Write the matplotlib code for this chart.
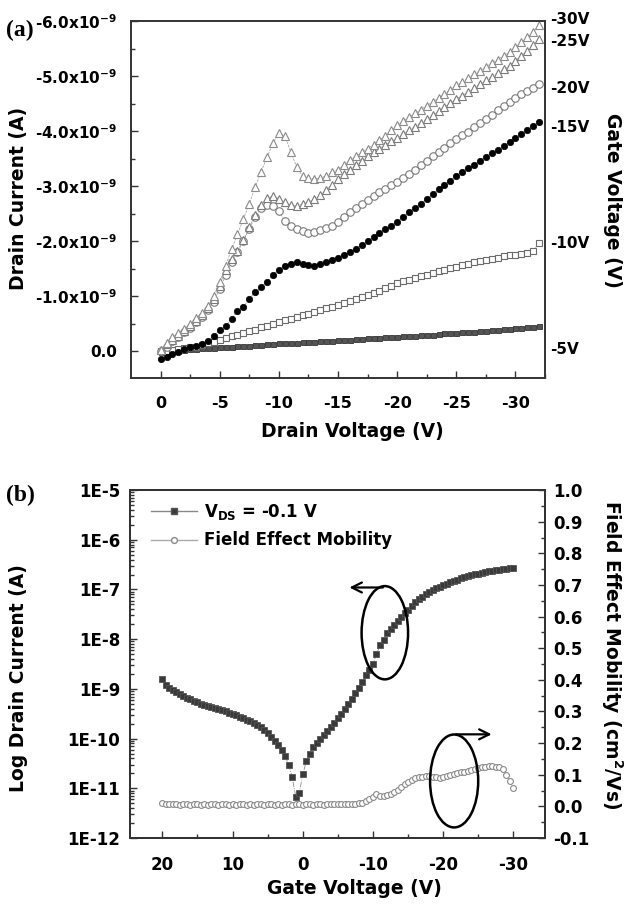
import numpy as np
import matplotlib
matplotlib.use('Agg')
import matplotlib.pyplot as plt
from matplotlib.patches import Ellipse
from matplotlib.lines import Line2D
from matplotlib.ticker import FixedLocator, FuncFormatter, LogLocator, NullFormatter

plt.rcParams['font.family'] = 'DejaVu Sans'
plt.rcParams['font.weight'] = 'bold'
plt.rcParams['mathtext.default'] = 'bf'
plt.rcParams['axes.unicode_minus'] = False

# ---------------- (a) output curves ----------------
# drain voltage sweep magnitude (V), 0 -> 32 V in 0.5 V steps
vd = np.arange(0, 32.01, 0.5)
# |I_D| in nA for each gate voltage
id_5 = [-0.02, -0.01, 0.00, 0.01, 0.02, 0.03, 0.04, 0.05, 0.06, 0.06, 0.07, 0.08, 0.08,
        0.09, 0.09, 0.10, 0.11, 0.11, 0.12, 0.13, 0.14, 0.14, 0.15, 0.15, 0.16, 0.16,
        0.17, 0.18, 0.18, 0.19, 0.20, 0.20, 0.21, 0.22, 0.22, 0.23, 0.24, 0.24, 0.25,
        0.26, 0.26, 0.27, 0.28, 0.28, 0.29, 0.30, 0.30, 0.31, 0.32, 0.32, 0.33, 0.34,
        0.35, 0.35, 0.36, 0.37, 0.38, 0.39, 0.40, 0.41, 0.42, 0.42, 0.43, 0.44, 0.45]
id_10 = [0.00, 0.01, 0.02, 0.04, 0.05, 0.07, 0.08, 0.11, 0.14, 0.17, 0.20, 0.23, 0.27,
         0.30, 0.33, 0.36, 0.39, 0.43, 0.46, 0.50, 0.53, 0.56, 0.59, 0.62, 0.65, 0.68,
         0.71, 0.74, 0.78, 0.81, 0.84, 0.87, 0.91, 0.94, 0.98, 1.02, 1.06, 1.10, 1.14,
         1.19, 1.24, 1.27, 1.30, 1.33, 1.36, 1.39, 1.42, 1.45, 1.48, 1.51, 1.53, 1.56,
         1.58, 1.61, 1.63, 1.65, 1.67, 1.70, 1.72, 1.74, 1.75, 1.77, 1.78, 1.81, 1.97]
id_15 = [-0.15, -0.10, -0.05, -0.01, 0.03, 0.07, 0.10, 0.13, 0.18, 0.28, 0.38, 0.45, 0.58,
         0.73, 0.80, 0.95, 1.07, 1.16, 1.26, 1.38, 1.48, 1.54, 1.59, 1.62, 1.59, 1.56,
         1.55, 1.58, 1.62, 1.66, 1.70, 1.75, 1.80, 1.86, 1.93, 2.00, 2.07, 2.14, 2.21,
         2.28, 2.35, 2.43, 2.52, 2.60, 2.68, 2.76, 2.85, 2.94, 3.02, 3.10, 3.19, 3.26,
         3.32, 3.39, 3.46, 3.53, 3.60, 3.66, 3.73, 3.80, 3.87, 3.94, 4.01, 4.09, 4.16]
id_20 = [0.00, 0.08, 0.18, 0.26, 0.34, 0.42, 0.52, 0.62, 0.74, 0.90, 1.12, 1.38, 1.62,
         1.80, 2.00, 2.22, 2.44, 2.60, 2.66, 2.64, 2.54, 2.37, 2.28, 2.22, 2.18, 2.15,
         2.17, 2.20, 2.24, 2.28, 2.35, 2.43, 2.52, 2.60, 2.68, 2.75, 2.82, 2.89, 2.95,
         3.01, 3.08, 3.15, 3.22, 3.30, 3.38, 3.46, 3.54, 3.62, 3.70, 3.78, 3.85, 3.92,
         3.99, 4.07, 4.14, 4.22, 4.30, 4.38, 4.45, 4.53, 4.60, 4.67, 4.73, 4.79, 4.85]
id_25 = [0.02, 0.12, 0.20, 0.28, 0.36, 0.45, 0.55, 0.65, 0.78, 0.95, 1.18, 1.48, 1.68,
         1.82, 2.02, 2.26, 2.48, 2.66, 2.78, 2.82, 2.77, 2.71, 2.66, 2.64, 2.67, 2.71,
         2.76, 2.83, 2.93, 3.02, 3.12, 3.22, 3.30, 3.38, 3.46, 3.54, 3.61, 3.68, 3.75,
         3.81, 3.87, 3.94, 4.01, 4.08, 4.15, 4.22, 4.29, 4.36, 4.43, 4.51, 4.58, 4.64,
         4.71, 4.78, 4.85, 4.92, 4.99, 5.06, 5.12, 5.19, 5.28, 5.37, 5.46, 5.57, 5.67]
id_30 = [0.02, 0.15, 0.25, 0.32, 0.40, 0.50, 0.60, 0.70, 0.82, 1.00, 1.25, 1.55, 1.85,
         2.12, 2.40, 2.68, 2.98, 3.26, 3.52, 3.78, 3.97, 3.91, 3.62, 3.35, 3.18, 3.14,
         3.13, 3.14, 3.19, 3.25, 3.30, 3.38, 3.47, 3.54, 3.61, 3.68, 3.75, 3.83, 3.91,
         4.01, 4.11, 4.18, 4.25, 4.32, 4.39, 4.46, 4.53, 4.60, 4.67, 4.75, 4.83, 4.89,
         4.96, 5.03, 5.10, 5.17, 5.24, 5.30, 5.37, 5.43, 5.52, 5.61, 5.70, 5.80, 5.92]
gate_labels = ['-5V', '-10V', '-15V', '-20V', '-25V', '-30V']
label_pos = [0.02, 1.96, 4.07, 4.78, 5.62, 6.02]   # nA, where the right-hand labels sit

# ---------------- (b) transfer curve ----------------
vg = np.arange(20, -30.01, -0.5)
log_id = [-8.80, -8.92, -8.99, -9.03, -9.07, -9.11, -9.15, -9.18, -9.21, -9.24,
          -9.27, -9.30, -9.32, -9.35, -9.37, -9.39, -9.41, -9.43, -9.45, -9.48,
          -9.50, -9.53, -9.56, -9.59, -9.62, -9.65, -9.69, -9.72, -9.77, -9.82,
          -9.89, -9.96, -10.04, -10.13, -10.23, -10.35, -10.53, -10.78, -11.17, -11.10,
          -10.72, -10.46, -10.30, -10.17, -10.08, -10.00, -9.93, -9.85, -9.77, -9.68,
          -9.59, -9.50, -9.40, -9.30, -9.20, -9.09, -8.98, -8.86, -8.73, -8.62,
          -8.50, -8.30, -8.12, -8.02, -7.87, -7.79, -7.71, -7.63, -7.55, -7.48,
          -7.41, -7.34, -7.26, -7.20, -7.15, -7.10, -7.06, -7.02, -6.98, -6.95,
          -6.91, -6.88, -6.85, -6.82, -6.80, -6.77, -6.75, -6.73, -6.71, -6.69,
          -6.68, -6.66, -6.65, -6.63, -6.62, -6.61, -6.60, -6.59, -6.58, -6.57,
          -6.57]
mobility = [0.010, 0.008, 0.007, 0.006, 0.006, 0.005, 0.006, 0.006, 0.005, 0.006,
            0.006, 0.005, 0.006, 0.005, 0.006, 0.006, 0.005, 0.006, 0.006, 0.005,
            0.006, 0.005, 0.006, 0.006, 0.005, 0.006, 0.005, 0.006, 0.006, 0.005,
            0.006, 0.006, 0.005, 0.006, 0.005, 0.006, 0.006, 0.005, 0.006, 0.006,
            0.005, 0.006, 0.006, 0.005, 0.006, 0.006, 0.005, 0.006, 0.006, 0.007,
            0.006, 0.006, 0.007, 0.007, 0.008, 0.009, 0.010, 0.012, 0.016, 0.022,
            0.030, 0.040, 0.032, 0.033, 0.036, 0.040, 0.045, 0.052, 0.062, 0.071,
            0.078, 0.084, 0.089, 0.092, 0.094, 0.096, 0.096, 0.094, 0.092, 0.089,
            0.092, 0.096, 0.099, 0.102, 0.105, 0.108, 0.110, 0.113, 0.116, 0.119,
            0.121, 0.123, 0.126, 0.127, 0.127, 0.125, 0.123, 0.118, 0.098, 0.080,
            0.058]

fig = plt.figure(figsize=(6.29, 9.05), dpi=100)
spine_col = '#333333'

# ================= panel (a) =================
ax1 = fig.add_axes([0.2083, 0.5823, 0.6582, 0.3945])
styles = [
    dict(marker='s', ms=3.6, mfc='#555555', mec='#333333', mew=0.6),
    dict(marker='s', ms=4.6, mfc='white', mec='#6a6a6a', mew=0.8),
    dict(marker='o', ms=4.6, mfc='black', mec='black', mew=0.5),
    dict(marker='o', ms=5.4, mfc='white', mec='#7a7a7a', mew=0.8),
    dict(marker='^', ms=6.0, mfc='white', mec='#7a7a7a', mew=0.8),
    dict(marker='^', ms=6.0, mfc='white', mec='#8a8a8a', mew=0.8),
]
for cur, st in zip([id_5, id_10, id_15, id_20, id_25, id_30], styles):
    ax1.plot(-vd, -np.array(cur) * 1e-9, ls='--', lw=0.5, color='#999999', **st)

ax1.set_xlim(2.5, -32.5)
ax1.set_ylim(0.49e-9, -6.0e-9)
ax1.xaxis.set_major_locator(FixedLocator([0, -5, -10, -15, -20, -25, -30]))
ax1.xaxis.set_minor_locator(FixedLocator(np.arange(-2.5, -32.6, -5)))
ax1.xaxis.set_major_formatter(FuncFormatter(lambda v, p: '%d' % v))
ax1.yaxis.set_major_locator(FixedLocator(np.arange(0, -6.01e-9, -1e-9)))
ax1.yaxis.set_minor_locator(FixedLocator(np.arange(-0.5e-9, -6.01e-9, -1e-9)))


def fmt_a(v, p):
    if abs(v) < 1e-12:
        return '0.0'
    return '%.1fx10$^{-9}$' % (v * 1e9)


ax1.yaxis.set_major_formatter(FuncFormatter(fmt_a))
ax1.tick_params(axis='both', which='both', direction='in', color=spine_col, width=1.0)
ax1.tick_params(axis='both', which='major', length=5)
ax1.tick_params(axis='both', which='minor', length=3)
ax1.tick_params(axis='x', labelsize=11.5, pad=13)
ax1.tick_params(axis='y', labelsize=11, pad=10)
for s in ax1.spines.values():
    s.set_color(spine_col)
    s.set_linewidth(1.4)

for lab, y in zip(gate_labels, label_pos):
    ax1.text(1.012, -y * 1e-9, lab, transform=ax1.get_yaxis_transform(),
             fontsize=11, fontweight='bold', ha='left', va='center')

fig.text(0.029, 1 - 198 / 905, 'Drain Current (A)', rotation=90, fontsize=13.5,
         fontweight='bold', ha='center', va='center')
fig.text(0.973, 1 - 200 / 905, 'Gate Voltage (V)', rotation=270, fontsize=13.5,
         fontweight='bold', ha='center', va='center')
fig.text(0.56, 1 - 431 / 905, 'Drain Voltage (V)', fontsize=13.5,
         fontweight='bold', ha='center', va='center')
fig.text(0.010, 1 - 30 / 905, '(a)', fontsize=17, fontweight='bold',
         family='Liberation Serif', ha='left', va='center')

# ================= panel (b) =================
ax2 = fig.add_axes([0.2067, 0.0740, 0.6598, 0.3845])
ax2.plot(vg, 10 ** np.array(log_id), marker='s', ms=4.6, mfc='#3a3a3a', mec='#555555',
         mew=0.6, ls='-.', lw=0.6, color='#888888')
ax2.set_yscale('log')
ax2.set_ylim(1e-12, 1e-5)
ax2.set_xlim(24.6, -34.5)
ax2.yaxis.set_major_locator(LogLocator(base=10, numticks=10))
ax2.yaxis.set_minor_locator(LogLocator(base=10, subs=np.arange(2, 10), numticks=20))
ax2.yaxis.set_minor_formatter(NullFormatter())
ax2.yaxis.set_major_formatter(FuncFormatter(lambda v, p: '1E%d' % round(np.log10(v))))
ax2.xaxis.set_major_locator(FixedLocator([20, 10, 0, -10, -20, -30]))
ax2.xaxis.set_minor_locator(FixedLocator([15, 5, -5, -15, -25]))
ax2.xaxis.set_major_formatter(FuncFormatter(lambda v, p: '%d' % v))
ax2.tick_params(axis='both', which='both', direction='in', color=spine_col, width=1.0)
ax2.tick_params(axis='both', which='major', length=5)
ax2.tick_params(axis='both', which='minor', length=3)
ax2.tick_params(axis='x', labelsize=12, pad=13)
ax2.tick_params(axis='y', labelsize=12, pad=7)

ax2r = ax2.twinx()
ax2r.plot(vg, mobility, marker='o', ms=4.2, mfc='white', mec='#8a8a8a', mew=0.8,
          ls='-.', lw=0.5, color='#aaaaaa')
ax2r.set_ylim(-0.1, 1.0)
ax2r.yaxis.set_major_locator(FixedLocator(np.round(np.arange(-0.1, 1.01, 0.1), 1)))
ax2r.yaxis.set_minor_locator(FixedLocator(np.arange(-0.05, 1.0, 0.1)))
ax2r.yaxis.set_major_formatter(FuncFormatter(lambda v, p: '%.1f' % v))
ax2r.tick_params(axis='y', which='both', direction='in', color=spine_col, width=1.0,
                 labelsize=12, pad=6)
ax2r.tick_params(axis='y', which='major', length=5)
ax2r.tick_params(axis='y', which='minor', length=3)
for a in (ax2, ax2r):
    for s in a.spines.values():
        s.set_color(spine_col)
        s.set_linewidth(1.4)

# circled guides with arrows
ax2r.add_patch(Ellipse((0.614, 0.590), 0.112, 0.268, transform=ax2r.transAxes,
                       fill=False, lw=1.8, ec='black', zorder=5))
ax2r.annotate('', xy=(0.522, 0.720), xytext=(0.616, 0.720), xycoords='axes fraction',
              arrowprops=dict(arrowstyle='->', lw=1.6, color='black',
                              mutation_scale=18))
ax2r.add_patch(Ellipse((0.781, 0.164), 0.116, 0.267, transform=ax2r.transAxes,
                       fill=False, lw=1.8, ec='black', zorder=5))
ax2r.annotate('', xy=(0.878, 0.298), xytext=(0.779, 0.298), xycoords='axes fraction',
              arrowprops=dict(arrowstyle='->', lw=1.6, color='black',
                              mutation_scale=18))

handles = [
    Line2D([], [], marker='s', ms=4.6, mfc='#3a3a3a', mec='#555555', ls='-', lw=1.0,
           color='#888888'),
    Line2D([], [], marker='o', ms=4.2, mfc='white', mec='#8a8a8a', ls='-', lw=1.0,
           color='#aaaaaa'),
]
ax2r.legend(handles, ['V$_{DS}$ = -0.1 V', 'Field Effect Mobility'], loc='upper left',
            bbox_to_anchor=(0.05, 0.965), frameon=False, fontsize=12,
            handlelength=2.8, handletextpad=0.4, labelspacing=0.55,
            borderpad=0, borderaxespad=0)

fig.text(0.029, 1 - 678 / 905, 'Log Drain Current (A)', rotation=90, fontsize=13.5,
         fontweight='bold', ha='center', va='center')
fig.text(0.973, 1 - 655 / 905, 'Field Effect Mobility (cm$^2$/Vs)', rotation=270,
         fontsize=13.5, fontweight='bold', ha='center', va='center')
fig.text(0.564, 1 - 888 / 905, 'Gate Voltage (V)', fontsize=13.5,
         fontweight='bold', ha='center', va='center')
fig.text(0.010, 1 - 495 / 905, '(b)', fontsize=17, fontweight='bold',
         family='Liberation Serif', ha='left', va='center')

fig.savefig('out.png', dpi=100, facecolor='white')
